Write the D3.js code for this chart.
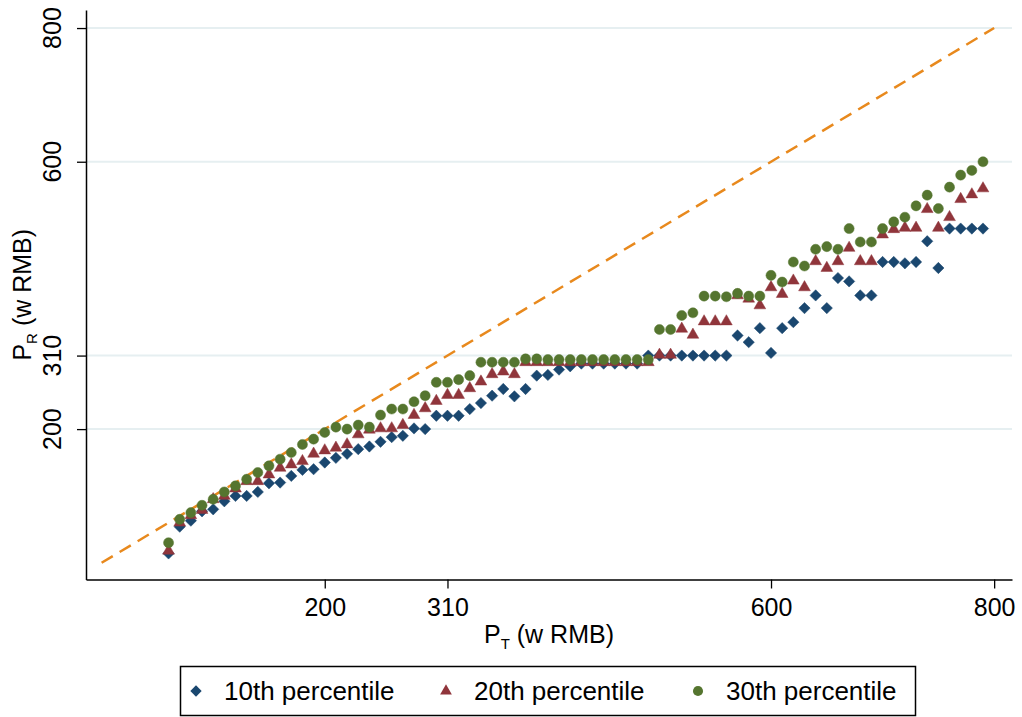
<!DOCTYPE html>
<html>
    <head>
        <title>P_R vs P_T</title>
        <script src="https://d3js.org/d3.v7.min.js"></script>
        <style>
            body { margin: 0; background: #fff; }
            text { font-family: "Liberation Sans", Arial, Helvetica, sans-serif; fill: #000; }
        </style>
    </head>
    <body>
        <div id="chart"></div>

        <script>
            // P_T values (w RMB)
            var pT = [60, 70, 80, 90, 100, 110, 120, 130, 140, 150, 160, 170, 180, 190, 200, 210, 220, 230, 240, 250,
                260, 270, 280, 290, 300, 310, 320, 330, 340, 350, 360, 370, 380, 390, 400, 410, 420, 430, 440, 450,
                460, 470, 480, 490, 500, 510, 520, 530, 540, 550, 560, 570, 580, 590, 600, 610, 620, 630, 640, 650,
                660, 670, 680, 690, 700, 710, 720, 730, 740, 750, 760, 770, 780, 790];

            var p10 = [14, 54, 63, 77, 80, 92, 100, 100, 106, 119, 120, 130, 139, 140, 150, 157, 163, 170, 174, 181,
                188, 190, 201, 200, 220, 220, 220, 230, 239, 250, 260, 249, 260, 280, 281, 289, 294, 298, 298, 298,
                298, 298, 298, 310, 310, 310, 310, 310, 310, 310, 310, 340, 330, 351, 314, 351, 360, 381, 400, 381,
                426, 421, 400, 400, 450, 450, 448, 450, 481, 441, 500, 500, 500, 500];

            var p20 = [18, 60, 71, 79, 95, 100, 111, 122, 122, 132, 142, 147, 152, 163, 168, 172, 177, 192, 199, 201,
                201, 206, 221, 231, 242, 251, 251, 261, 271, 282, 286, 282, 300, 300, 300, 300, 300, 300, 300, 300,
                300, 300, 300, 300, 311, 311, 350, 341, 361, 361, 361, 400, 395, 385, 412, 402, 422, 412, 451, 441,
                451, 471, 451, 451, 491, 499, 501, 501, 529, 501, 517, 544, 551, 560];

            var p30 = [30, 65, 75, 86, 95, 106, 115, 125, 135, 145, 155, 165, 177, 185, 195, 203, 200, 206, 203, 221,
                230, 230, 241, 250, 270, 270, 274, 280, 300, 300, 300, 300, 305, 305, 304, 304, 304, 304, 304, 304,
                304, 304, 304, 304, 349, 349, 370, 374, 399, 399, 398, 403, 399, 399, 430, 420, 450, 444, 469, 473,
                469, 500, 480, 480, 500, 510, 517, 534, 550, 530, 562, 580, 587, 600];

            var xTicks = [200, 310, 600, 800];
            var yTicks = [200, 310, 600, 800];
            var seriesNames = ["10th percentile", "20th percentile", "30th percentile"];
            var diagonal = [0, 800];

            var width = 1022, height = 717;
            var colors = ["#1a476f", "#90353b", "#55752f"];
            var shapes = [d3.symbolSquare, d3.symbolTriangle, d3.symbolCircle];
            var sizes = [64, 60, 80];
            var rotations = [45, 0, 0];

            var svg = d3.select("#chart").append("svg")
                .attr("width", width)
                .attr("height", height);

            svg.append("rect").attr("width", width).attr("height", height).attr("fill", "#fff");

            var x = d3.scaleLinear()
                .domain([-14, 816])
                .range([86, 1012]);

            var y = d3.scaleLinear()
                .domain([-25, 827])
                .range([579.5, 10]);

            // grid lines
            svg.selectAll("line.grid")
                .data(yTicks)
                .enter().append("line")
                .attr("class", "grid")
                .attr("x1", x.range()[0])
                .attr("x2", x.range()[1])
                .attr("y1", function (d) { return y(d); })
                .attr("y2", function (d) { return y(d); })
                .style("stroke", "#e6eff1")
                .style("stroke-width", 2);

            // 45 degree line
            svg.append("line")
                .attr("x1", x(diagonal[0])).attr("y1", y(diagonal[0]))
                .attr("x2", x(diagonal[1])).attr("y2", y(diagonal[1]))
                .style("stroke", "#e8891d")
                .style("stroke-width", 2.5)
                .style("stroke-dasharray", "13,8");

            var series = [p10, p20, p30];
            series.forEach(function (vals, i) {
                var sym = d3.symbol().type(shapes[i]).size(sizes[i]);
                svg.append("g").selectAll("path")
                    .data(vals)
                    .enter().append("path")
                    .attr("d", sym)
                    .attr("transform", function (d, j) {
                        return "translate(" + x(pT[j]) + "," + y(d) + ") rotate(" + rotations[i] + ")";
                    })
                    .style("fill", colors[i])
                    .style("stroke", colors[i])
                    .style("stroke-width", 0.8)
                    .style("stroke-opacity", 0.6);
            });

            var xAxis = d3.axisBottom(x)
                .tickValues(xTicks)
                .tickSize(9)
                .tickSizeOuter(0)
                .tickPadding(10);

            var gx = svg.append("g")
                .attr("transform", "translate(0," + y.range()[0] + ")")
                .call(xAxis);
            gx.selectAll("text").style("font-size", "25px");

            var yAxis = d3.axisLeft(y)
                .tickValues(yTicks)
                .tickSize(9)
                .tickSizeOuter(0)
                .tickFormat("");

            var gy = svg.append("g")
                .attr("transform", "translate(" + x.range()[0] + ",0)")
                .call(yAxis);

            svg.selectAll("g.domain, .domain").style("stroke-width", 1.5);
            svg.selectAll(".tick line").style("stroke-width", 1.3);

            // rotated y tick labels
            svg.selectAll("text.ylab")
                .data(yTicks)
                .enter().append("text")
                .attr("class", "ylab")
                .attr("transform", function (d) { return "translate(61," + y(d) + ") rotate(-90)"; })
                .attr("text-anchor", "middle")
                .style("font-size", "25px")
                .text(function (d) { return d; });

            // axis titles
            var midY = (y.range()[0] + y.range()[1]) / 2;
            var ytitle = svg.append("text")
                .attr("transform", "translate(31," + midY + ") rotate(-90)")
                .attr("text-anchor", "middle")
                .style("font-size", "25px");
            ytitle.append("tspan").text("P");
            ytitle.append("tspan").attr("dy", 6).style("font-size", "15px").text("R");
            ytitle.append("tspan").attr("dy", -6).text(" (w RMB)");

            var midX = (x.range()[0] + x.range()[1]) / 2;
            var xtitle = svg.append("text")
                .attr("x", midX)
                .attr("y", 643)
                .attr("text-anchor", "middle")
                .style("font-size", "25px");
            xtitle.append("tspan").text("P");
            xtitle.append("tspan").attr("dy", 6).style("font-size", "15px").text("T");
            xtitle.append("tspan").attr("dy", -6).text(" (w RMB)");

            // legend
            var legend = svg.append("g");
            legend.append("rect")
                .attr("x", 180.5).attr("y", 666.5)
                .attr("width", 735).attr("height", 49)
                .style("fill", "#fff")
                .style("stroke", "#000")
                .style("stroke-width", 1.5);

            var itemX = [196, 446, 698];
            seriesNames.forEach(function (name, i) {
                legend.append("path")
                    .attr("d", d3.symbol().type(shapes[i]).size(sizes[i])())
                    .attr("transform", "translate(" + itemX[i] + ",691) rotate(" + rotations[i] + ")")
                    .style("fill", colors[i]);
                legend.append("text")
                    .attr("x", itemX[i] + 28)
                    .attr("y", 700)
                    .style("font-size", "26px")
                    .text(name);
            });
        </script>
    </body>
</html>
